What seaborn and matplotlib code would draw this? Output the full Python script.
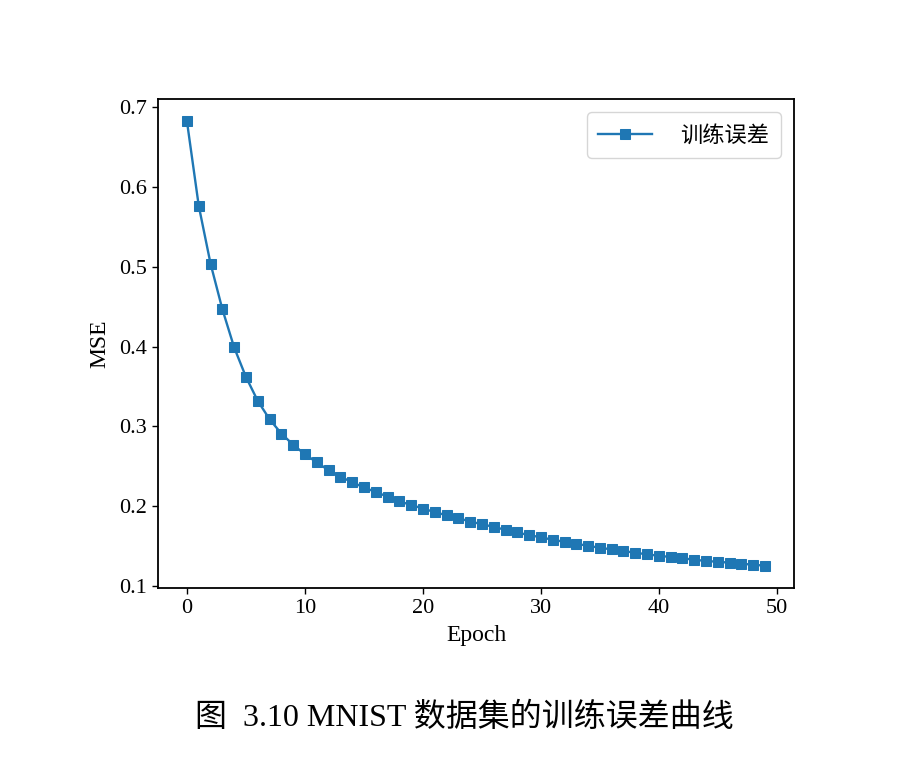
import matplotlib
matplotlib.use("Agg")
import matplotlib.pyplot as plt
import seaborn as sns
import numpy as np
import pandas as pd

epochs = list(range(50))
mse = [0.6825, 0.5765, 0.504, 0.447, 0.399, 0.362, 0.332, 0.309, 0.291, 0.277,
       0.265, 0.255, 0.245, 0.237, 0.230, 0.2235, 0.2177, 0.212, 0.206, 0.2015,
       0.197, 0.1925, 0.1886, 0.185, 0.1807, 0.1774, 0.174, 0.1703, 0.167, 0.1636,
       0.161, 0.1578, 0.1553, 0.1528, 0.1503, 0.1478, 0.1458, 0.1437, 0.1416, 0.1396,
       0.1378, 0.1362, 0.1346, 0.1329, 0.1312, 0.1303, 0.1291, 0.1278, 0.1266, 0.1253]
series_label = "训练误差"
caption = "图  3.10 MNIST 数据集的训练误差曲线"

df = pd.DataFrame({"Epoch": epochs, "MSE": mse})

serif = ["Liberation Serif", "Noto Sans CJK SC", "DejaVu Sans"]
plt.rcParams["font.family"] = serif
plt.rcParams["axes.unicode_minus"] = False

fig = plt.figure(figsize=(9.14, 7.71), dpi=100)
ax = fig.add_axes([0.1729, 0.2374, 0.8687 - 0.1729, 0.8716 - 0.2374])

sns.lineplot(data=df, x="Epoch", y="MSE", marker="s", markersize=7.5,
             linewidth=1.7, color="#1f77b4", markeredgecolor="#1f77b4",
             label=series_label, ax=ax)

ax.set_xticks([0, 10, 20, 30, 40, 50])
ax.set_yticks([0.1, 0.2, 0.3, 0.4, 0.5, 0.6, 0.7])
ax.tick_params(labelsize=16, length=4.5, width=1.0)
ax.set_xlabel("Epoch", fontsize=17, labelpad=5)
ax.set_ylabel("MSE", fontsize=17, labelpad=6)
for s in ax.spines.values():
    s.set_linewidth(1.3)

leg = ax.legend(loc="upper right", handlelength=2.4,
                borderpad=0.5, handletextpad=1.3, borderaxespad=0.6,
                prop={"family": ["Noto Sans CJK SC"], "size": 16})

fig.text(0.508, 0.069, caption, ha="center", va="center", fontsize=23,
         family=["Liberation Serif", "Noto Sans CJK SC"])

fig.savefig("out.png", dpi=100)
